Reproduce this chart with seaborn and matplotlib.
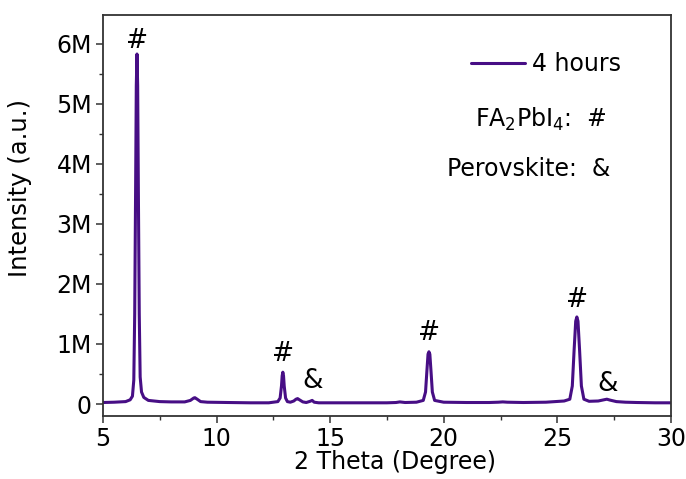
import matplotlib
matplotlib.use("Agg")
import matplotlib.pyplot as plt
from matplotlib.ticker import MultipleLocator, FuncFormatter
import seaborn as sns

# XRD pattern (2theta in degree, intensity in millions)
two_theta = [5.0, 5.5, 6.0, 6.2, 6.3, 6.36, 6.4, 6.44, 6.47, 6.5, 6.53, 6.56,
             6.6, 6.64, 6.7, 6.8, 7.0, 7.5, 8.0, 8.6, 8.85, 9.0, 9.05, 9.15,
             9.3, 9.6, 10.5, 11.5, 12.3, 12.7, 12.8, 12.86, 12.89, 12.92, 12.95,
             12.98, 13.04, 13.12, 13.25, 13.4, 13.5, 13.57, 13.65, 13.8, 13.95,
             14.12, 14.21, 14.3, 14.5, 15.5, 16.5, 17.5, 17.9, 18.07, 18.3, 18.8,
             19.1, 19.2, 19.26, 19.31, 19.35, 19.39, 19.44, 19.5, 19.6, 20.0,
             21.0, 22.0, 22.4, 22.6, 22.8, 23.5, 24.5, 25.3, 25.55, 25.66, 25.74,
             25.81, 25.86, 25.91, 25.98, 26.06, 26.17, 26.4, 26.8, 27.05, 27.18,
             27.32, 27.6, 28.0, 28.5, 29.3, 30.0]
intensity = [0.025, 0.03, 0.04, 0.07, 0.13, 0.4, 1.5, 3.6, 5.3, 5.83, 5.3, 3.6,
             1.5, 0.45, 0.2, 0.11, 0.06, 0.04, 0.035, 0.035, 0.06, 0.1, 0.105, 0.08,
             0.04, 0.03, 0.025, 0.02, 0.02, 0.04, 0.1, 0.3, 0.47, 0.53, 0.47,
             0.3, 0.1, 0.04, 0.03, 0.05, 0.08, 0.09, 0.07, 0.035, 0.025,
             0.045, 0.06, 0.03, 0.02, 0.02, 0.02, 0.02, 0.025, 0.035, 0.025, 0.03,
             0.06, 0.2, 0.55, 0.83, 0.87, 0.83, 0.55, 0.2, 0.06, 0.03,
             0.025, 0.025, 0.03, 0.035, 0.03, 0.025, 0.03, 0.05, 0.08, 0.3, 0.9,
             1.38, 1.45, 1.38, 0.9, 0.3, 0.08, 0.045, 0.05, 0.07, 0.08,
             0.065, 0.04, 0.03, 0.025, 0.02, 0.02]

# peak markers: (x, y, symbol)
mark_x = [6.5, 12.92, 14.21, 19.35, 25.86, 27.2]
mark_y = [6.05, 0.84, 0.38, 1.18, 1.74, 0.34]
mark_sym = ["#", "#", "&", "#", "#", "&"]

sns.set_style("ticks")
plt.rcParams["font.family"] = ["DejaVu Sans"]
plt.rcParams["mathtext.default"] = "regular"
plt.rcParams["text.color"] = "black"
plt.rcParams["axes.labelcolor"] = "black"
plt.rcParams["xtick.color"] = "black"
plt.rcParams["ytick.color"] = "black"

fig = plt.figure(figsize=(6.86, 4.79), dpi=100)
ax = fig.add_axes([0.150, 0.1315, 0.828, 0.8372])

line_color = "#470E85"
sns.lineplot(x=two_theta, y=intensity, ax=ax, color=line_color,
             linewidth=2.2, label="4 hours", sort=False)

for x, y, s in zip(mark_x, mark_y, mark_sym):
    ax.text(x, y, s, ha="center", va="center", fontsize=19, color="black")

ax.set_xlim(5, 30)
ax.set_ylim(-0.2, 6.48)
ax.xaxis.set_major_locator(MultipleLocator(5))
ax.xaxis.set_minor_locator(MultipleLocator(2.5))
ax.yaxis.set_major_locator(MultipleLocator(1))
ax.yaxis.set_minor_locator(MultipleLocator(0.5))
ax.yaxis.set_major_formatter(FuncFormatter(lambda v, p: "0" if v == 0 else f"{v:.0f}M"))

ax.tick_params(which="major", direction="out", length=5, width=1.1,
               labelsize=17, color="#333333", labelcolor="black", pad=3)
ax.tick_params(which="minor", direction="out", length=3, width=1.0, color="#333333")
for sp in ax.spines.values():
    sp.set_linewidth(1.3)
    sp.set_color("#333333")

ax.set_xlabel("2 Theta (Degree)", fontsize=17)
ax.set_ylabel("Intensity (a.u.)", fontsize=17.5)
ax.xaxis.set_label_coords(0.514, -0.084)
ax.yaxis.set_label_coords(-0.125, 0.569)

leg = ax.legend(loc="upper right", bbox_to_anchor=(0.95, 0.96), frameon=False,
                fontsize=17, handlelength=2.3, handletextpad=0.3)

ax.text(0.888, 0.74, "FA$_2$PbI$_4$:  #", transform=ax.transAxes,
        ha="right", va="center", fontsize=17)
ax.text(0.894, 0.617, "Perovskite:  &", transform=ax.transAxes,
        ha="right", va="center", fontsize=17)

plt.savefig("out.png", dpi=100)
